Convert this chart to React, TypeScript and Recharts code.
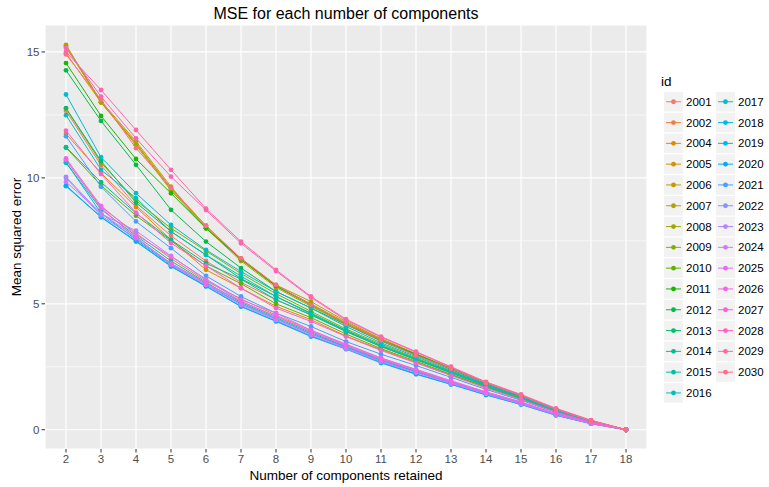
import React from "react";
import { LineChart, Line, XAxis, YAxis, CartesianGrid, ReferenceLine } from "recharts";

const components = [2, 3, 4, 5, 6, 7, 8, 9, 10, 11, 12, 13, 14, 15, 16, 17, 18];
const ids = ["2001","2002","2004","2005","2006","2007","2008","2009","2010","2011","2012","2013","2014","2015","2016","2017","2018","2019","2020","2021","2022","2023","2024","2025","2026","2027","2028","2029","2030"];
const yTicks = [0, 5, 10, 15];
const yMinor = [2.5, 7.5, 12.5];

const s2001 = [12.67, 10.5, 8.9, 7.7, 6.7, 5.85, 5.16, 4.56, 3.9, 3.3, 2.78, 2.28, 1.75, 1.28, 0.75, 0.32, 0];
const s2002 = [10.69, 8.85, 7.8, 6.8, 5.9, 5.2, 4.55, 3.95, 3.38, 2.85, 2.38, 1.92, 1.5, 1.1, 0.63, 0.27, 0];
const s2004 = [11.75, 10.19, 8.84, 7.54, 6.35, 5.62, 4.9, 4.37, 3.72, 3.18, 2.68, 2.18, 1.68, 1.22, 0.72, 0.31, 0];
const s2005 = [14.95, 13.0, 11.35, 9.55, 8.05, 6.75, 5.7, 4.95, 4.22, 3.58, 2.98, 2.4, 1.84, 1.34, 0.8, 0.35, 0];
const s2006 = [15.28, 13.0, 11.38, 9.59, 8.1, 6.77, 5.71, 5.0, 4.25, 3.6, 3.0, 2.45, 1.87, 1.36, 0.82, 0.36, 0];
const s2007 = [15.25, 13.05, 11.45, 9.65, 8.0, 6.8, 5.75, 5.09, 4.3, 3.62, 3.02, 2.44, 1.86, 1.37, 0.81, 0.36, 0];
const s2008 = [15.2, 13.0, 11.3, 9.5, 8.0, 6.7, 5.65, 4.9, 4.2, 3.55, 2.98, 2.42, 1.84, 1.35, 0.8, 0.35, 0];
const s2009 = [12.75, 10.6, 9.1, 8.0, 7.1, 6.2, 5.4, 4.7, 4.0, 3.4, 2.85, 2.32, 1.78, 1.3, 0.77, 0.33, 0];
const s2010 = [11.2, 9.7, 8.5, 7.5, 6.5, 5.8, 5.0, 4.45, 3.8, 3.22, 2.72, 2.2, 1.7, 1.24, 0.73, 0.31, 0];
const s2011 = [14.56, 12.46, 10.75, 9.39, 8.0, 6.77, 5.71, 4.96, 4.2, 3.55, 3.0, 2.42, 1.85, 1.34, 0.8, 0.35, 0];
const s2012 = [14.27, 12.26, 10.52, 8.73, 7.47, 6.42, 5.49, 4.83, 4.17, 3.52, 2.95, 2.4, 1.83, 1.33, 0.78, 0.34, 0];
const s2013 = [12.77, 10.67, 9.02, 7.87, 6.94, 6.0, 5.29, 4.63, 3.95, 3.35, 2.82, 2.3, 1.77, 1.3, 0.76, 0.33, 0];
const s2014 = [11.22, 9.83, 8.6, 7.54, 6.61, 5.98, 5.16, 4.56, 3.9, 3.3, 2.78, 2.25, 1.73, 1.26, 0.74, 0.32, 0];
const s2015 = [10.6, 8.75, 7.7, 6.7, 5.85, 5.05, 4.45, 3.85, 3.3, 2.78, 2.32, 1.88, 1.46, 1.07, 0.6, 0.26, 0];
const s2016 = [12.49, 10.32, 9.2, 7.87, 6.94, 6.1, 5.29, 4.6, 3.92, 3.32, 2.8, 2.28, 1.75, 1.27, 0.74, 0.32, 0];
const s2017 = [13.31, 10.82, 9.39, 8.13, 7.14, 6.28, 5.49, 4.83, 4.1, 3.45, 2.9, 2.35, 1.8, 1.3, 0.76, 0.33, 0];
const s2018 = [10.62, 8.6, 7.55, 6.55, 5.75, 5.0, 4.4, 3.8, 3.28, 2.75, 2.3, 1.86, 1.44, 1.05, 0.6, 0.25, 0];
const s2019 = [9.67, 8.44, 7.47, 6.48, 5.69, 4.89, 4.3, 3.7, 3.2, 2.65, 2.2, 1.8, 1.38, 1.0, 0.57, 0.24, 0];
const s2020 = [9.7, 8.45, 7.5, 6.5, 5.7, 4.9, 4.32, 3.72, 3.22, 2.68, 2.22, 1.81, 1.39, 1.01, 0.58, 0.24, 0];
const s2021 = [11.65, 9.65, 8.27, 7.21, 6.11, 5.29, 4.63, 4.1, 3.5, 3.0, 2.55, 2.08, 1.6, 1.17, 0.68, 0.29, 0];
const s2022 = [10.0, 8.5, 7.6, 6.6, 5.8, 5.0, 4.4, 3.8, 3.25, 2.72, 2.28, 1.85, 1.43, 1.04, 0.6, 0.25, 0];
const s2023 = [10.04, 8.57, 7.9, 6.9, 5.95, 5.1, 4.5, 3.9, 3.32, 2.8, 2.35, 1.9, 1.47, 1.07, 0.62, 0.26, 0];
const s2024 = [9.84, 8.6, 7.65, 6.55, 5.75, 4.95, 4.35, 3.75, 3.22, 2.7, 2.27, 1.84, 1.42, 1.03, 0.59, 0.25, 0];
const s2025 = [10.77, 8.89, 7.74, 6.88, 5.98, 5.16, 4.63, 3.95, 3.4, 2.85, 2.4, 1.95, 1.5, 1.1, 0.63, 0.27, 0];
const s2026 = [10.72, 8.8, 7.61, 6.61, 5.82, 5.1, 4.5, 3.9, 3.35, 2.8, 2.35, 1.9, 1.48, 1.08, 0.62, 0.26, 0];
const s2027 = [11.88, 10.15, 8.62, 7.41, 6.51, 5.62, 4.83, 4.3, 3.7, 3.15, 2.65, 2.15, 1.65, 1.2, 0.7, 0.3, 0];
const s2028 = [15.16, 13.23, 11.57, 10.05, 8.72, 7.4, 6.3, 5.25, 4.35, 3.68, 3.08, 2.48, 1.88, 1.38, 0.83, 0.37, 0];
const s2029 = [15.0, 13.49, 11.9, 10.32, 8.78, 7.47, 6.35, 5.29, 4.39, 3.7, 3.1, 2.5, 1.9, 1.4, 0.85, 0.38, 0];
const s2030 = [14.9, 13.1, 11.18, 9.6, 8.1, 6.8, 5.75, 4.96, 4.2, 3.55, 2.95, 2.42, 1.85, 1.35, 0.8, 0.35, 0];

const seriesValues = [s2001, s2002, s2004, s2005, s2006, s2007, s2008, s2009, s2010, s2011, s2012, s2013, s2014, s2015, s2016, s2017, s2018, s2019, s2020, s2021, s2022, s2023, s2024, s2025, s2026, s2027, s2028, s2029, s2030];

function hcl(h: number, c = 100, l = 65): string {
  const hr = (h * Math.PI) / 180;
  const U = c * Math.cos(hr);
  const V = c * Math.sin(hr);
  const Xn = 95.047, Yn = 100, Zn = 108.883;
  const Y = l > 8 ? Yn * Math.pow((l + 16) / 116, 3) : (Yn * l) / 903.3;
  const t = Xn + 15 * Yn + 3 * Zn;
  const un = (4 * Xn) / t, vn = (9 * Yn) / t;
  const u = U / (13 * l) + un, v = V / (13 * l) + vn;
  const X = (9 * Y * u) / (4 * v);
  const Z = (Y * (12 - 3 * u - 20 * v)) / (4 * v);
  const x = X / 100, y = Y / 100, z = Z / 100;
  const lin = [
    3.240479 * x - 1.53715 * y - 0.498535 * z,
    -0.969256 * x + 1.875992 * y + 0.041556 * z,
    0.055648 * x - 0.204043 * y + 1.057311 * z,
  ];
  return (
    "#" +
    lin
      .map((q) => {
        let g = q <= 0.0031308 ? 12.92 * q : 1.055 * Math.pow(q, 1 / 2.4) - 0.055;
        g = Math.max(0, Math.min(1, g));
        return Math.round(g * 255).toString(16).padStart(2, "0");
      })
      .join("")
  );
}

const colors = ids.map((_, i) => hcl(15 + (i * 360) / ids.length));

const data = components.map((x, j) => {
  const row: Record<string, number> = { x };
  ids.forEach((id, i) => {
    row["s" + id] = seriesValues[i][j];
  });
  return row;
});

const FONT = "'Liberation Sans', Arial, sans-serif";

export default function App() {
  const W = 769, H = 487;
  const legendX1 = 664, legendX2 = 716, legendY0 = 92, rowH = 20.8;
  return (
    <div style={{ position: "absolute", left: 0, top: 0, width: W, height: H, background: "#fff" }}>
      <LineChart
        width={W}
        height={H}
        data={data}
        margin={{ top: 25, right: 122, bottom: 0, left: 0 }}
        style={{ position: "absolute", left: 0, top: 0 }}
      >
        <CartesianGrid fill="#EBEBEB" stroke="#FFFFFF" strokeWidth={1.2} strokeDasharray="" />
        {yMinor.map((v) => (
          <ReferenceLine key={"m" + v} y={v} stroke="#FFFFFF" strokeWidth={0.6} ifOverflow="hidden" />
        ))}
        <XAxis
          dataKey="x"
          type="number"
          domain={[1.4, 18.6]}
          ticks={components}
          allowDataOverflow
          interval={0}
          height={38}
          axisLine={false}
          tickLine={{ stroke: "#333333", strokeWidth: 1 }}
          tickSize={3.5}
          tickMargin={2}
          tick={{ fill: "#4D4D4D", fontSize: 11.5, fontFamily: FONT }}
        />
        <YAxis
          type="number"
          domain={[-0.765, 16.07]}
          ticks={yTicks}
          allowDataOverflow
          width={45}
          axisLine={false}
          tickLine={{ stroke: "#333333", strokeWidth: 1 }}
          tickSize={3.5}
          tickMargin={2}
          tick={{ fill: "#4D4D4D", fontSize: 11.5, fontFamily: FONT }}
        />
        {ids.map((id, i) => (
          <Line
            key={"l" + id}
            dataKey={"s" + id}
            stroke={colors[i]}
            strokeWidth={1}
            dot={false}
            activeDot={false}
            isAnimationActive={false}
            type="linear"
          />
        ))}
        {ids.map((id, i) => (
          <Line
            key={"p" + id}
            dataKey={"s" + id}
            stroke="none"
            dot={{ r: 2.4, fill: colors[i], stroke: "none" }}
            activeDot={false}
            isAnimationActive={false}
            legendType="none"
          />
        ))}
      </LineChart>
      <svg width={W} height={H} style={{ position: "absolute", left: 0, top: 0, pointerEvents: "none" }}>
        <text x={346} y={19} textAnchor="middle" fontSize={16} fill="#000" fontFamily={FONT}>
          MSE for each number of components
        </text>
        <text x={346} y={480} textAnchor="middle" fontSize={13.5} fill="#000" fontFamily={FONT}>
          Number of components retained
        </text>
        <text
          x={0}
          y={0}
          transform={`translate(21,237) rotate(-90)`}
          textAnchor="middle"
          fontSize={13.5}
          fill="#000"
          fontFamily={FONT}
        >
          Mean squared error
        </text>
        <text x={661} y={86} fontSize={13.5} fill="#000" fontFamily={FONT}>
          id
        </text>
        {ids.map((id, i) => {
          const col = i < 15 ? 0 : 1;
          const row = i < 15 ? i : i - 15;
          const bx = col === 0 ? legendX1 : legendX2;
          const by = legendY0 + row * rowH;
          return (
            <g key={"lg" + id}>
              <rect x={bx} y={by} width={19} height={19.5} fill="#F2F2F2" />
              <line x1={bx + 2} x2={bx + 17} y1={by + 9.75} y2={by + 9.75} stroke={colors[i]} strokeWidth={1} />
              <circle cx={bx + 9.5} cy={by + 9.75} r={2.4} fill={colors[i]} />
              <text x={bx + 22} y={by + 13.8} fontSize={11.5} fill="#000" fontFamily={FONT}>
                {id}
              </text>
            </g>
          );
        })}
      </svg>
    </div>
  );
}
